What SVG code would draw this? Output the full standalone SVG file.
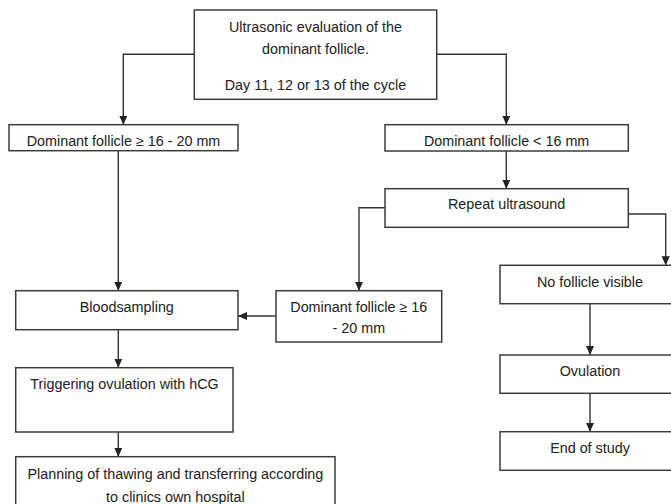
<svg xmlns="http://www.w3.org/2000/svg" width="671" height="504" viewBox="0 0 671 504">
<style>
.box{fill:#fff;stroke:#3c3c3c;stroke-width:1.5}
.t{font-family:"Liberation Sans",Arial,sans-serif;font-size:14.35px;fill:#222;text-anchor:middle}
.c{fill:none;stroke:#333;stroke-width:1.4}
</style>
<defs>
<marker id="ah" viewBox="0 0 10 10" refX="10" refY="5" markerUnits="userSpaceOnUse" markerWidth="9" markerHeight="9" orient="auto">
<path d="M0,0.5 L10,5 L0,9.5 z" fill="#222"/>
</marker>
</defs>
<rect width="671" height="504" fill="#fff"/>
<g id="connectors">
<path class="c" d="M194.3,54.3 H123.3 V124.7" marker-end="url(#ah)"/>
<path class="c" d="M436.7,54.3 H506.3 V124.7" marker-end="url(#ah)"/>
<path class="c" d="M118.3,150.7 V290.7" marker-end="url(#ah)"/>
<path class="c" d="M506.3,151 V188.7" marker-end="url(#ah)"/>
<path class="c" d="M385,207.7 H359 V290.7" marker-end="url(#ah)"/>
<path class="c" d="M628.3,214 H665.7 V265.3" marker-end="url(#ah)"/>
<path class="c" d="M276,316 H238" marker-end="url(#ah)"/>
<path class="c" d="M118.3,329.7 V367.7" marker-end="url(#ah)"/>
<path class="c" d="M118.3,432 V456.7" marker-end="url(#ah)"/>
<path class="c" d="M590,303.7 V355" marker-end="url(#ah)"/>
<path class="c" d="M590,393.3 V431.7" marker-end="url(#ah)"/>
</g>
<g id="n-top">
<rect class="box" x="194.3" y="10" width="242.4" height="89.3"/>
<text class="t" x="315.5" y="31.7">Ultrasonic evaluation of the</text>
<text class="t" x="315.5" y="54">dominant follicle.</text>
<text class="t" x="315.5" y="89.5">Day 11, 12 or 13 of the cycle</text>
</g>
<g id="n-large">
<rect class="box" x="9" y="124.7" width="229" height="26"/>
<text class="t" x="123.5" y="146">Dominant follicle ≥ 16 - 20 mm</text>
</g>
<g id="n-small">
<rect class="box" x="385" y="124.7" width="243.3" height="26.3"/>
<text class="t" x="506.6" y="146">Dominant follicle &lt; 16 mm</text>
</g>
<g id="n-repeat">
<rect class="box" x="385" y="188.7" width="243.3" height="38.6"/>
<text class="t" x="506.6" y="209.3">Repeat ultrasound</text>
</g>
<g id="n-dom2">
<rect class="box" x="276" y="290.7" width="165.7" height="51.3"/>
<text class="t" x="358.8" y="312">Dominant follicle ≥ 16</text>
<text class="t" x="358.8" y="333">- 20 mm</text>
</g>
<g id="n-blood">
<rect class="box" x="15.7" y="290.7" width="222.3" height="39"/>
<text class="t" x="126.8" y="312">Bloodsampling</text>
</g>
<g id="n-nofollicle">
<rect class="box" x="500" y="265.3" width="180" height="38.4"/>
<text class="t" x="590" y="286.7">No follicle visible</text>
</g>
<g id="n-trigger">
<rect class="box" x="15.7" y="367.7" width="217.3" height="64.3"/>
<text class="t" x="124.5" y="388.7">Triggering ovulation with hCG</text>
</g>
<g id="n-plan">
<rect class="box" x="15.7" y="456.7" width="319.3" height="60"/>
<text class="t" x="175.4" y="478.7">Planning of thawing and transferring according</text>
<text class="t" x="175.4" y="501.7">to clinics own hospital</text>
</g>
<g id="n-ovulation">
<rect class="box" x="500" y="355" width="180" height="38.3"/>
<text class="t" x="590" y="376">Ovulation</text>
</g>
<g id="n-end">
<rect class="box" x="500" y="431.7" width="180" height="38.6"/>
<text class="t" x="590" y="452.7">End of study</text>
</g>
</svg>
